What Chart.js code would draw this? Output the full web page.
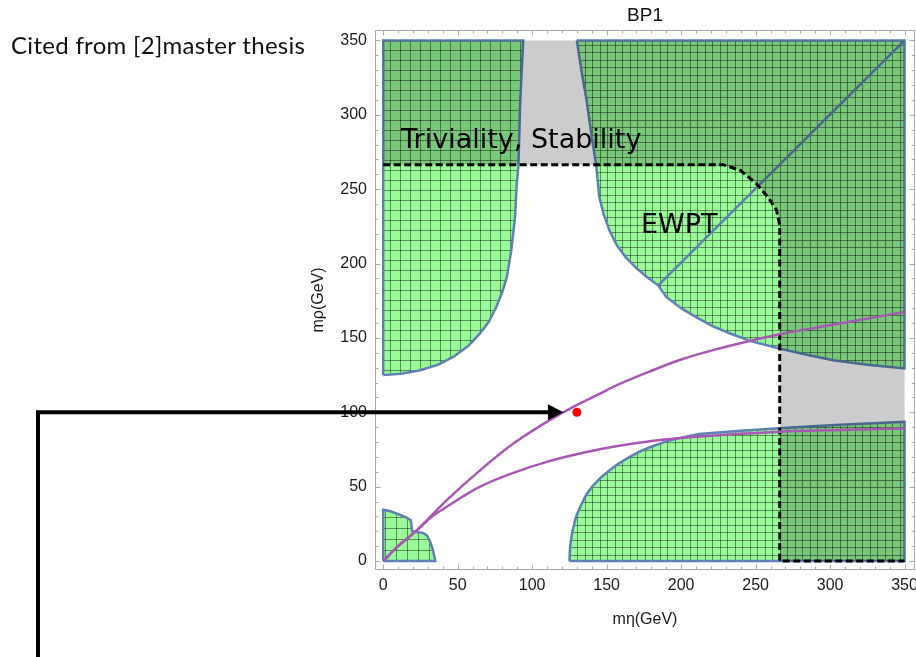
<!DOCTYPE html>
<html>
<head>
<meta charset="utf-8">
<script src="https://cdn.jsdelivr.net/npm/chart.js@4.4.1/dist/chart.umd.min.js"></script>
<style>
  html, body { margin: 0; padding: 0; background: #fff; }
  #wrap { position: relative; width: 916px; height: 657px; overflow: hidden; }
  #bp1-chart { position: absolute; left: 0; top: 0; }
  #note { position: absolute; left: 11px; top: 30px; font: 24px Lato, sans-serif; letter-spacing: 0.3px; color: #111; white-space: nowrap; }
</style>
</head>
<body>
<div id="wrap">
  <canvas id="bp1-chart" width="916" height="657"></canvas>
  <div id="note">Cited from [2]master thesis</div>
</div>
<script>
// boundaries, points are [m_eta, m_rho] in GeV
const regionLeft = [[0,125],[12,126],[25,128.3],[37,132],[47,137.2],[57,144.5],[65,153],[71,161],[76,171],[80,181],
  [83,191],[86,209],[88.5,231],[89.6,253],[90.8,266],[92,309.5],[94,350],[0,350],[0,125]];
const regionRight = [[130,350],[133,330],[136.5,310],[140,285],[143,266],[145,245],[148,233],[152,222],[157,212],
  [163,204],[170,197],[177,191],[184.6,185.4],[190,177.6],[200,170],[210,164],[221,158],[233,153],[246,148],
  [266,142.9],[285,138.5],[302,135],[325,132],[350,129.5],[350,350],[130,350]];
const regionBottom = [[125,0],[125.5,10],[127,20],[129.5,30],[133,38],[136.5,45],[141,51],[146,56],[152,61],
  [158,65.5],[165.5,70],[172,73.5],[179,76.5],[190,80.5],[200,83],[212,85.5],[240,87.6],[266,89.3],[300,91.3],
  [350,93.6],[350,0],[125,0]];
const regionSmall = [[0,0],[0,34.5],[5,33.5],[11.4,31],[16,29],[18.5,27.5],[19.5,20],[27,18.8],[29.5,17],
  [31.5,13],[33.5,7],[35,0],[0,0]];
const diagonal = [[184.6,185.4],[350,350]];
const trivStab = [[0,350],[0,266.5],[228,266.5],[240,262.5],[250.5,253.7],[258,245],[264,236],[266.2,226],
  [266.2,0],[350,0],[350,350],[0,350]];
const trivEdge = [[0,266.5],[228,266.5],[240,262.5],[250.5,253.7],[258,245],[264,236],[266.2,226],[266.2,0],[350,0]];
const curveUpper = [[0,0],[10,10],[22.6,20.8],[42.7,41],[65,61],[87.4,79],[109.8,93.6],[127.6,103.7],[145.5,112.5],
  [154.4,117.1],[179,127.5],[200,135.5],[222,142],[246,148],[266,152.5],[300,158.5],[350,167.5]];
const curveLower = [[0,0],[10,10],[22.6,20.6],[31.5,29],[42.7,36.5],[65,50],[87.4,59.3],[109.8,66.7],[132.1,72.3],
  [154.4,76.8],[179,80.5],[210,83.5],[266,86.9],[300,88],[350,89.1]];
const benchmark = [[130,100]];
const arrowTip = [121,100];
const labelTriv = [12,277.6];
const labelEwpt = [173,220.8];
const xTickValues = [0,50,100,150,200,250,300,350];
const yTickValues = [0,50,100,150,200,250,300,350];

const paleGreen = 'rgb(152,251,152)';
const edgeBlue = 'rgb(94,129,181)';
const purple = 'rgb(168,88,180)';
const tickFont = { family: 'Liberation Sans', size: 16 };

function toPoints(list) {
  return list.map(p => ({ x: p[0], y: p[1] }));
}

const canvas = document.getElementById('bp1-chart');
const ctx = canvas.getContext('2d');

function meshPattern(steps) {
  const size = steps.reduce((a, b) => a + b, 0);
  const c = document.createElement('canvas');
  c.width = size; c.height = size;
  const g = c.getContext('2d');
  g.fillStyle = paleGreen;
  g.fillRect(0, 0, size, size);
  g.strokeStyle = 'rgba(0,0,0,0.42)';
  g.lineWidth = 1;
  g.beginPath();
  let pos = 0;
  steps.forEach(s => {
    g.moveTo(pos + 0.5, 0); g.lineTo(pos + 0.5, size);
    g.moveTo(0, pos + 0.5); g.lineTo(size, pos + 0.5);
    pos += s;
  });
  g.stroke();
  return ctx.createPattern(c, 'repeat');
}

function region(list, steps, order) {
  return {
    data: toPoints(list),
    showLine: true,
    fill: 'shape',
    backgroundColor: meshPattern(steps),
    borderColor: edgeBlue,
    borderWidth: 2.5,
    pointRadius: 0,
    tension: 0,
    order: order
  };
}

function curve(list, order) {
  return {
    data: toPoints(list),
    showLine: true,
    borderColor: purple,
    borderWidth: 2.5,
    pointRadius: 0,
    cubicInterpolationMode: 'monotone',
    order: order
  };
}

const overlayPlugin = {
  id: 'overlay',
  afterDatasetsDraw(chart) {
    const { ctx, chartArea: a, scales: { x, y } } = chart;
    ctx.save();
    // region labels
    ctx.fillStyle = '#000';
    ctx.font = '27px "DejaVu Sans"';
    ctx.textAlign = 'left';
    ctx.textBaseline = 'alphabetic';
    ctx.fillText('Triviality, Stability', x.getPixelForValue(labelTriv[0]), y.getPixelForValue(labelTriv[1]));
    ctx.fillText('EWPT', x.getPixelForValue(labelEwpt[0]), y.getPixelForValue(labelEwpt[1]));

    // frame with inward ticks
    ctx.strokeStyle = '#a9a9a9';
    ctx.lineWidth = 1;
    ctx.strokeRect(a.left + 0.5, a.top + 0.5, a.width - 1, a.height - 1);
    ctx.beginPath();
    for (let v = 0; v <= 350; v += 10) {
      const len = v % 50 === 0 ? 5.5 : 3.3;
      const px = Math.round(x.getPixelForValue(v)) + 0.5;
      ctx.moveTo(px, a.bottom); ctx.lineTo(px, a.bottom - len);
      ctx.moveTo(px, a.top); ctx.lineTo(px, a.top + len);
      const py = Math.round(y.getPixelForValue(v)) + 0.5;
      ctx.moveTo(a.left, py); ctx.lineTo(a.left + len, py);
      ctx.moveTo(a.right, py); ctx.lineTo(a.right - len, py);
    }
    ctx.stroke();

    // pointer arrow from the left margin
    const ay = y.getPixelForValue(arrowTip[1]);
    const tip = x.getPixelForValue(arrowTip[0]);
    ctx.strokeStyle = '#000';
    ctx.lineWidth = 4;
    ctx.lineJoin = 'miter';
    ctx.beginPath();
    ctx.moveTo(38, chart.height + 2);
    ctx.lineTo(38, ay);
    ctx.lineTo(tip - 14, ay);
    ctx.stroke();
    ctx.fillStyle = '#000';
    ctx.beginPath();
    ctx.moveTo(tip, ay);
    ctx.lineTo(tip - 15.5, ay - 8);
    ctx.lineTo(tip - 15.5, ay + 8);
    ctx.closePath();
    ctx.fill();
    ctx.restore();
  }
};

new Chart(ctx, {
  type: 'scatter',
  data: {
    datasets: [
      region(regionLeft, [10], 10),
      region(regionRight, [7, 8], 9),
      region(regionBottom, [7, 8], 8),
      region(regionSmall, [11], 7),
      {
        data: toPoints(diagonal), showLine: true, borderColor: edgeBlue, borderWidth: 2.5,
        pointRadius: 0, order: 6
      },
      {
        data: toPoints(trivStab), showLine: true, fill: 'shape', backgroundColor: 'rgba(0,0,0,0.2)',
        borderWidth: 0, borderColor: 'rgba(0,0,0,0)', pointRadius: 0, order: 5
      },
      {
        data: toPoints(trivEdge), showLine: true, borderColor: '#000', borderWidth: 3,
        borderDash: [7, 3.5], pointRadius: 0, order: 4
      },
      curve(curveLower, 3),
      curve(curveUpper, 2),
      {
        data: toPoints(benchmark), pointRadius: 4.5, pointBackgroundColor: '#ff0000',
        pointBorderWidth: 0, order: 1
      }
    ]
  },
  options: {
    responsive: false,
    animation: false,
    events: [],
    layout: { autoPadding: false, padding: { left: 300, right: 1, top: 0, bottom: 0 } },
    plugins: {
      legend: { display: false },
      tooltip: { enabled: false },
      title: {
        display: true, text: 'BP1', fullSize: false, color: '#111',
        font: { family: 'Liberation Sans', size: 19, weight: 'normal' },
        padding: { top: 4, bottom: 3.2 }
      }
    },
    scales: {
      x: {
        type: 'linear', min: -5.5, max: 357,
        grid: { display: false, drawTicks: false },
        border: { display: false },
        ticks: { padding: 6, font: tickFont, color: '#1a1a1a', maxRotation: 0, autoSkip: false },
        title: {
          display: true, text: 'mη(GeV)', color: '#1a1a1a',
          font: { family: 'Liberation Sans', size: 16 }, padding: { top: 0, bottom: 27.4 }
        },
        afterBuildTicks: s => { s.ticks = xTickValues.map(v => ({ value: v })); },
        afterFit: s => { s.height = 87; s.paddingLeft = 0; s.paddingRight = 0; }
      },
      y: {
        type: 'linear', min: -6, max: 357,
        grid: { display: false, drawTicks: false },
        border: { display: false },
        ticks: { padding: 8, font: tickFont, color: '#1a1a1a', autoSkip: false },
        title: {
          display: true, text: 'mρ(GeV)', color: '#1a1a1a',
          font: { family: 'Liberation Sans', size: 16 }, padding: { top: 9.4, bottom: 0 }
        },
        afterBuildTicks: s => { s.ticks = yTickValues.map(v => ({ value: v })); },
        afterFit: s => { s.width = 75; s.paddingTop = 0; s.paddingBottom = 0; }
      }
    }
  },
  plugins: [overlayPlugin]
});
</script>
</body>
</html>
